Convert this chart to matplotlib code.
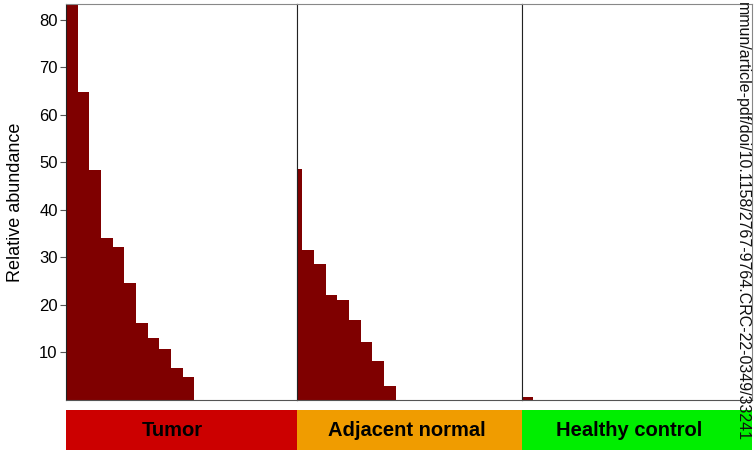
import matplotlib.pyplot as plt

# clone abundances per group
tumor = [90, 64.7, 48.4, 34.0, 32.1, 24.7, 16.1, 13.1, 10.8, 6.8, 4.8]
adjacent = [48.6, 31.5, 28.7, 22.1, 21.1, 16.8, 12.1, 8.1, 2.9]
healthy = [0.6]

groups = ["Tumor", "Adjacent normal", "Healthy control"]
group_colors = ["#cc0000", "#f09c00", "#00ee00"]
yticks = [10, 20, 30, 40, 50, 60, 70, 80]

bar_color = "#7f0000"
plt.rcParams["font.family"] = ["Liberation Sans", "DejaVu Sans"]

fig = plt.figure(figsize=(7.54, 4.5), dpi=100)
L, R = 66 / 754, 752 / 754
bot, top = 1 - 400 / 450, 1 - 4 / 450
widths = [231, 225, 230]
total = sum(widths)
slot = 11.65  # px per bar

# x offsets so the adjacent group's first bar is half hidden
x_start = [0.0, 0.53, -0.06]
data = [tumor, adjacent, healthy]
bar_w = [1.0, 1.0, 0.86]

x0 = L
for i, (vals, w) in enumerate(zip(data, widths)):
    fw = (R - L) * w / total
    ax = fig.add_axes([x0, bot, fw, top - bot])
    ax.bar(range(len(vals)), vals, width=bar_w[i], align="edge",
           color=bar_color, edgecolor="none")
    ax.set_xlim(x_start[i], x_start[i] + w / slot)
    ax.set_ylim(0, 83.3)
    ax.set_xticks([])
    for s in ["top", "right"]:
        ax.spines[s].set_color("#888888")
    ax.spines["bottom"].set_color("#555555")
    ax.spines["left"].set_color("#222222")
    if i == 0:
        ax.set_yticks(yticks)
        ax.tick_params(axis="y", labelsize=12, length=4, width=0.8,
                       color="#555555", pad=2)
        ax.set_ylabel("Relative abundance", fontsize=13, labelpad=11)
    else:
        ax.set_yticks([])
    # colored group band under each panel
    band = fig.add_axes([x0, -5 / 450, fw, 45 / 450])
    band.set_facecolor(group_colors[i])
    band.set_xticks([])
    band.set_yticks([])
    for s in band.spines.values():
        s.set_visible(False)
    tx = [0.46, 0.49, 0.465][i]
    band.text(tx, 0.555, groups[i], ha="center", va="center",
              fontsize=14.5, fontweight="bold", transform=band.transAxes)
    x0 += fw

# download watermark running down the right edge
fig.text(742 / 754, 1 - 2 / 450,
         "mmun/article-pdf/doi/10.1158/2767-9764.CRC-22-0349/33241",
         rotation=-90, ha="center", va="top", fontsize=11.5, color="#111111")

fig.savefig("out.png", dpi=100)
